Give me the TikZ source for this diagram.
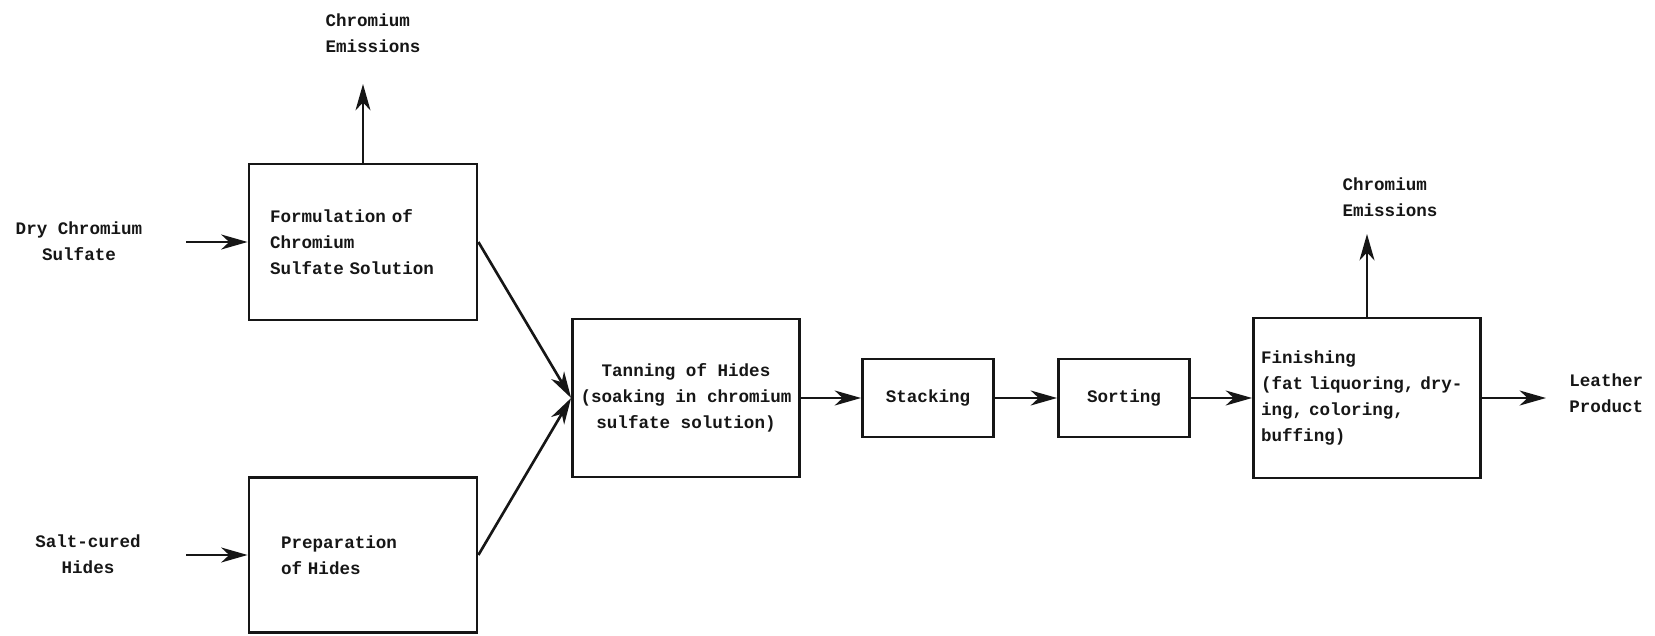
\documentclass[tikz,border=0pt]{standalone}
\usepackage{fontspec}
\setmonofont{Liberation Mono}
\usepackage{xcolor}
\usepackage{tikz}
\usetikzlibrary{arrows.meta, positioning}
\definecolor{inkblack}{RGB}{22, 22, 22}
\newcommand{\flowfont}{\ttfamily\bfseries\fontsize{10}{14.8}\selectfont}

\tikzset{
    procbox/.style={draw=inkblack, line width=1.6pt, inner sep=0pt, font=\flowfont, text=inkblack},
    flowlabel/.style={inner sep=0pt, font=\flowfont, text=inkblack},
    flowarrow/.style={draw=inkblack, line width=1.5pt, -{Stealth[length=15pt, width=8.5pt, inset=4.5pt]}},
}

\begin{document}
\begin{tikzpicture}[x=0.02cm, y=-0.02cm]
    \useasboundingbox (0,0) rectangle (1655,635);

    % process boxes
    \node[procbox, minimum width=4.56cm, minimum height=3.12cm, text width=3.72cm, align=left] (formulation) at (363,242) {Formulation of\\Chromium\\Sulfate Solution};
    \node[procbox, minimum width=4.56cm, minimum height=3.10cm, text width=3.28cm, align=left] (preparation) at (363,555) {Preparation\\of Hides};
    \node[procbox, minimum width=4.54cm, minimum height=3.16cm, align=center] (tanning) at (686,398) {Tanning of Hides\\(soaking in chromium\\sulfate solution)};
    \node[procbox, minimum width=2.62cm, minimum height=1.56cm] (stacking) at (928,398) {Stacking};
    \node[procbox, minimum width=2.62cm, minimum height=1.56cm] (sorting) at (1124,398) {Sorting};
    \node[procbox, minimum width=4.54cm, minimum height=3.20cm, text width=4.24cm, align=left] (finishing) at (1367,398) {Finishing\\(fat liquoring, dry-\\ing, coloring,\\buffing)};

    % inputs, outputs and emissions
    \node[flowlabel, align=center] (drysulfate) at (79,241) {Dry Chromium\\Sulfate};
    \node[flowlabel, align=center] (salthides) at (88,554) {Salt-cured\\Hides};
    \node[flowlabel, align=left] (emissionsone) at (373,33) {Chromium\\Emissions};
    \node[flowlabel, align=left] (emissionstwo) at (1390,197) {Chromium\\Emissions};
    \node[flowlabel, align=left, anchor=west] (leather) at (1569,393) {Leather\\Product};

    \coordinate (drystart) at (186,242);
    \coordinate (saltstart) at (186,555);
    \coordinate (emitone) at (363,84);
    \coordinate (emittwo) at (1367,234);
    \coordinate (leatherend) at (1546,398);

    % flows
    \draw[flowarrow] (drystart) -- (formulation.west);
    \draw[flowarrow] (saltstart) -- (preparation.west);
    \draw[flowarrow] (formulation.north) -- (emitone);
    \draw[flowarrow] (formulation.east) -- (tanning.west);
    \draw[flowarrow] (preparation.east) -- (tanning.west);
    \draw[flowarrow] (tanning.east) -- (stacking.west);
    \draw[flowarrow] (stacking.east) -- (sorting.west);
    \draw[flowarrow] (sorting.east) -- (finishing.west);
    \draw[flowarrow] (finishing.north) -- (emittwo);
    \draw[flowarrow] (finishing.east) -- (leatherend);
\end{tikzpicture}
\end{document}
